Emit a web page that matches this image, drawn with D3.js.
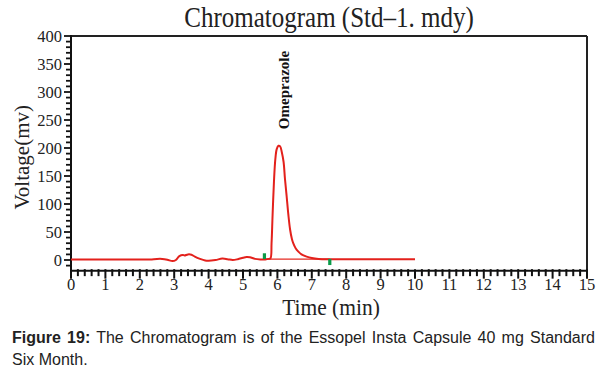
<!DOCTYPE html>
<html><head><meta charset="utf-8">
<script src="https://cdn.jsdelivr.net/npm/d3@7"></script>
<style>body{margin:0;background:#fff}</style>
</head><body>
<script>
// ---- data ----
const times  = [0,0.5,1.0,1.5,2.0,2.3,2.5,2.65,2.8,2.95,3.05,3.15,3.25,3.3,3.4,3.5,3.6,3.75,3.9,4.0,4.2,4.4,4.55,4.7,4.85,5.0,5.1,5.2,5.35,5.5,5.65,5.75,5.8,5.83,5.86,5.9,5.94,5.98,6.03,6.08,6.13,6.18,6.22,6.27,6.32,6.37,6.42,6.46,6.53,6.61,6.7,6.85,7.0,7.2,7.5,8.0,9.0,10.0];
const voltage= [1,1,1,0.8,0.8,1,2,2,0.5,-2,0,7,9,8,10,9.5,6,2,-1,-1.5,0,2.5,1.5,0,1.5,4,5.5,5,2,1,1,2,3,30,80,140,180,198,204,203,192,175,145,113,80,54,38,30,21,15,10,6,3.5,2,1.5,1.5,1.3,1.2];
const baselineT = [5.62, 7.52];
const baselineV = [1.5, 1.5];
const markerT = [5.62, 7.52];
const markerTop = [12, 2];
const markerBottom = [1.8, -9];
const peakName = ["Omeprazole"];
const peakTime = [6.05];
const xTickLabels = d3.range(0, 16);
const yTickLabels = [0,50,100,150,200,250,300,350,400];
const title = "Chromatogram (Std\u20131. mdy)";
const xTitle = "Time (min)";
const yTitle = "Voltage(mv)";
const captionBold = "Figure 19:";
const captionLine1 = " The Chromatogram is of the Essopel Insta Capsule 40 mg Standard";
const captionLine2 = "Six Month.";

// ---- layout ----
const W = 614, H = 379;
const svg = d3.select("body").append("svg").attr("width", W).attr("height", H);
const x = d3.scaleLinear().domain([0, 15]).range([71, 587]);
const y = d3.scaleLinear().domain([0, 400]).range([260, 36]);
const yMin = -19;
const axisY = y(yMin);
const serif = "'Liberation Serif','Times New Roman',serif";
const sans = "'Liberation Sans',Arial,sans-serif";

// frame
svg.append("line").attr("x1", x(0)).attr("x2", x(15)).attr("y1", y(400)).attr("y2", y(400)).attr("stroke", "#222").attr("stroke-width", 2);
svg.append("line").attr("x1", x(15)).attr("x2", x(15)).attr("y1", y(400)).attr("y2", axisY).attr("stroke", "#222").attr("stroke-width", 2);

// y axis
const yAxis = svg.append("g").attr("transform", `translate(${x(0)},0)`);
yAxis.append("line").attr("y1", y(400) - 1).attr("y2", axisY).attr("stroke", "#111").attr("stroke-width", 2);
const yMinor = d3.range(-10, 401, 10);
yAxis.selectAll("line.t").data(yMinor).join("line").attr("class", "t")
  .attr("x1", d => d % 50 === 0 ? -7 : -5).attr("x2", 0)
  .attr("y1", d => y(d)).attr("y2", d => y(d)).attr("stroke", "#111").attr("stroke-width", 1.8);
yAxis.selectAll("text").data(yTickLabels).join("text")
  .attr("x", -9).attr("y", d => y(d)).attr("dy", "0.35em").attr("text-anchor", "end")
  .attr("font-family", serif).attr("font-size", 16.5).attr("fill", "#222").text(d => d);

// x axis
const xAxis = svg.append("g").attr("transform", `translate(0,${axisY})`);
xAxis.append("line").attr("x1", x(0) - 1).attr("x2", x(15) + 1).attr("stroke", "#111").attr("stroke-width", 2);
const xMinor = d3.range(0, 75.5, 1).map(i => i / 5);
xAxis.selectAll("line.t").data(xMinor).join("line").attr("class", "t")
  .attr("x1", d => x(d)).attr("x2", d => x(d))
  .attr("y1", -1.5).attr("y2", (d, i) => i % 5 === 0 ? 8 : 5.5).attr("stroke", "#111").attr("stroke-width", 2);
xAxis.selectAll("text").data(xTickLabels).join("text")
  .attr("x", d => x(d)).attr("y", 19).attr("text-anchor", "middle")
  .attr("font-family", serif).attr("font-size", 16.5).attr("fill", "#222").text(d => d);

// titles
svg.append("g").attr("transform", "translate(329,27) scale(1,1.18)")
  .append("text").attr("text-anchor", "middle").attr("font-family", serif).attr("font-size", 25).attr("fill", "#222").text(title);
svg.append("g").attr("transform", `translate(${(x(0) + x(15)) / 2 + 2},315) scale(1,1.1)`)
  .append("text").attr("text-anchor", "middle").attr("font-family", serif).attr("font-size", 21.5).attr("fill", "#222").text(xTitle);
svg.append("g").attr("transform", `translate(29,${(y(400) + axisY) / 2 + 4}) rotate(-90)`)
  .append("text").attr("text-anchor", "middle").attr("font-family", serif).attr("font-size", 21).attr("fill", "#222").text(yTitle);

// trace
const pts = times.map((t, i) => [t, voltage[i]]);
const line = d3.line().x(d => x(d[0])).y(d => y(d[1])).curve(d3.curveCatmullRom.alpha(0.5));
svg.append("path").datum(baselineT.map((t, i) => [t, baselineV[i]]))
  .attr("d", d3.line().x(d => x(d[0])).y(d => y(d[1]))).attr("fill", "none").attr("stroke", "#e52a22").attr("stroke-width", 1.3);
svg.append("path").datum(pts).attr("d", line).attr("fill", "none").attr("stroke", "#e3211c").attr("stroke-width", 2).attr("stroke-linejoin", "round");

// markers
svg.selectAll("rect.m").data(markerT).join("rect").attr("class", "m")
  .attr("x", d => x(d) - 1.5).attr("width", 3.2)
  .attr("y", (d, i) => y(markerTop[i])).attr("height", (d, i) => y(markerBottom[i]) - y(markerTop[i]))
  .attr("fill", "#0a9a48");

// peak label
svg.selectAll("text.pk").data(peakName).join("text").attr("class", "pk")
  .attr("transform", (d, i) => `translate(${x(peakTime[i]) + 10},90) rotate(-90)`)
  .attr("text-anchor", "middle").attr("font-family", serif).attr("font-weight", "bold")
  .attr("font-size", 15).attr("fill", "#111").text(d => d);

// caption
const cap1 = svg.append("text").attr("x", 12).attr("y", 343).attr("font-family", sans).attr("font-size", 16).attr("fill", "#222");
cap1.append("tspan").attr("font-weight", "bold").text(captionBold);
cap1.append("tspan").text(captionLine1);
const natural = cap1.node().getComputedTextLength();
const gaps = (captionBold + captionLine1).split(" ").length - 1;
const ws = Math.max(0, (595 - 12 - natural) / gaps);
cap1.attr("word-spacing", ws);
svg.append("text").attr("x", 12).attr("y", 365).attr("font-family", sans).attr("font-size", 16).attr("fill", "#222").text(captionLine2);
</script>
</body></html>
